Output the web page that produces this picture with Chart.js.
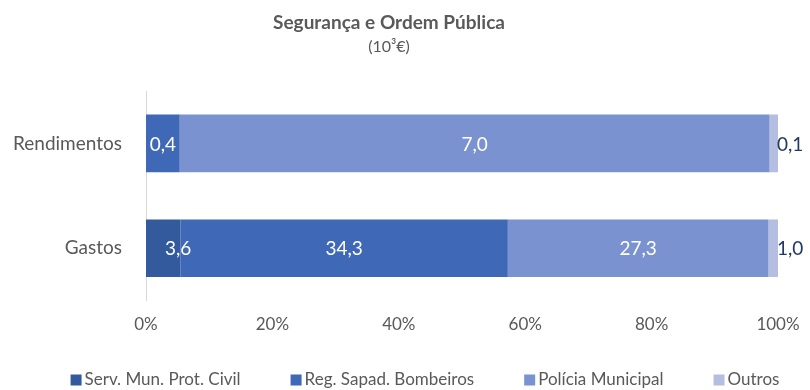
<!DOCTYPE html>
<html>
<head>
<meta charset="utf-8">
<script src="https://cdn.jsdelivr.net/npm/chart.js@4.4.0/dist/chart.umd.min.js"></script>
<style>
  html, body { margin: 0; padding: 0; background: #fff; }
  #wrap { width: 810px; height: 390px; }
</style>
</head>
<body>
<div id="wrap"><canvas id="chart" width="810" height="390"></canvas></div>
<script>
// Segurança e Ordem Pública, values in 10^3 €
const categories = ['Rendimentos', 'Gastos'];
const seriesNames = ['Serv. Mun. Prot. Civil', 'Reg. Sapad. Bombeiros', 'Polícia Municipal', 'Outros'];
const servMunProtCivil = [0, 3.6];
const regSapadBombeiros = [0.4, 34.3];
const policiaMunicipal = [7.0, 27.3];
const outros = [0.1, 1.0];
const colors = ['#335A9C', '#3F69B6', '#7A92CF', '#B3BEE0'];
const tickLabels = ['0%', '20%', '40%', '60%', '80%', '100%'];

const FONT = 'Lato, "Noto Sans", sans-serif';
const GREY = '#595959';

const raw = [servMunProtCivil, regSapadBombeiros, policiaMunicipal, outros];
const totals = categories.map((_, i) => raw.reduce((s, arr) => s + arr[i], 0));

const datasets = raw.map((arr, k) => ({
  label: seriesNames[k],
  raw: arr,
  data: arr.map((v, i) => v / totals[i] * 100),
  backgroundColor: colors[k],
  borderWidth: 0,
  categoryPercentage: 1,
  barPercentage: 0.55
}));

const fmt = v => v.toFixed(1).replace('.', ',');

// value labels: white inside the segment, dark outside when it does not fit
const valueLabels = {
  id: 'valueLabels',
  afterDatasetsDraw(chart, args, opts) {
    const ctx = chart.ctx;
    ctx.save();
    ctx.font = '19px ' + FONT;
    ctx.textBaseline = 'middle';
    chart.data.datasets.forEach((ds, di) => {
      chart.getDatasetMeta(di).data.forEach((bar, i) => {
        const v = ds.raw[i];
        if (!v) return;
        const txt = fmt(v);
        const w = ctx.measureText(txt).width;
        const left = Math.min(bar.x, bar.base), right = Math.max(bar.x, bar.base);
        if (right - left > w + 4) {
          const shift = (opts.shift && opts.shift[di + '-' + i]) || 0;
          ctx.fillStyle = '#ffffff';
          ctx.textAlign = 'center';
          ctx.fillText(txt, (left + right) / 2 + shift, bar.y + 1);
        } else {
          ctx.fillStyle = '#1F3864';
          ctx.textAlign = 'left';
          ctx.fillText(txt, right - 1, bar.y + 1);
        }
      });
    });
    ctx.restore();
  }
};

// legend row along the bottom: small square, tight gap, text
const bottomLegend = {
  id: 'bottomLegend',
  afterDraw(chart, args, opts) {
    const ctx = chart.ctx;
    ctx.save();
    ctx.font = opts.fontSize + 'px ' + FONT;
    ctx.textBaseline = 'middle';
    const items = chart.data.datasets.map(ds => ({
      text: ds.label, color: ds.backgroundColor,
      w: opts.box + opts.gap + ctx.measureText(ds.label).width
    }));
    const total = items.reduce((s, it) => s + it.w, 0) + opts.spacing * (items.length - 1);
    let x = opts.centerX - total / 2;
    const y = chart.height - opts.bottom;
    items.forEach(it => {
      ctx.fillStyle = it.color;
      ctx.fillRect(x, y - opts.box / 2, opts.box, opts.box);
      ctx.fillStyle = GREY;
      ctx.textAlign = 'left';
      ctx.fillText(it.text, x + opts.box + opts.gap, y);
      x += it.w + opts.spacing;
    });
    ctx.restore();
  }
};

new Chart(document.getElementById('chart'), {
  type: 'bar',
  data: { labels: categories, datasets },
  plugins: [valueLabels, bottomLegend],
  options: {
    indexAxis: 'y',
    responsive: false,
    animation: false,
    layout: { padding: { left: 0, right: 32, top: 6, bottom: 41 } },
    scales: {
      x: {
        stacked: true,
        min: 0,
        max: 100,
        grid: { display: false, drawTicks: false },
        border: { display: false },
        ticks: {
          stepSize: 20,
          padding: 14,
          color: GREY,
          font: { family: FONT, size: 17 },
          callback: (v, i) => tickLabels[i]
        },
        afterFit(scale) { scale.paddingRight = 0; scale.paddingLeft = 0; }
      },
      y: {
        stacked: true,
        grid: { display: false, drawTicks: false },
        border: { display: true, color: '#D9D9D9', width: 1 },
        ticks: { padding: 24, color: GREY, font: { family: FONT, size: 19 } },
        afterFit(scale) { scale.width = 146; }
      }
    },
    plugins: {
      title: {
        display: true,
        text: 'Segurança e Ordem Pública',
        color: GREY,
        font: { family: FONT, size: 19, weight: 'bold' },
        padding: { top: 5, bottom: 3 }
      },
      subtitle: {
        display: true,
        text: '(10³€)',
        color: GREY,
        font: { family: FONT, size: 16 },
        padding: { bottom: 35 }
      },
      legend: { display: false },
      tooltip: { enabled: false },
      valueLabels: { shift: { '0-1': 15 } },
      bottomLegend: { fontSize: 17, box: 11, gap: 3, spacing: 50, centerX: 425, bottom: 10 }
    }
  }
});
</script>
</body>
</html>
